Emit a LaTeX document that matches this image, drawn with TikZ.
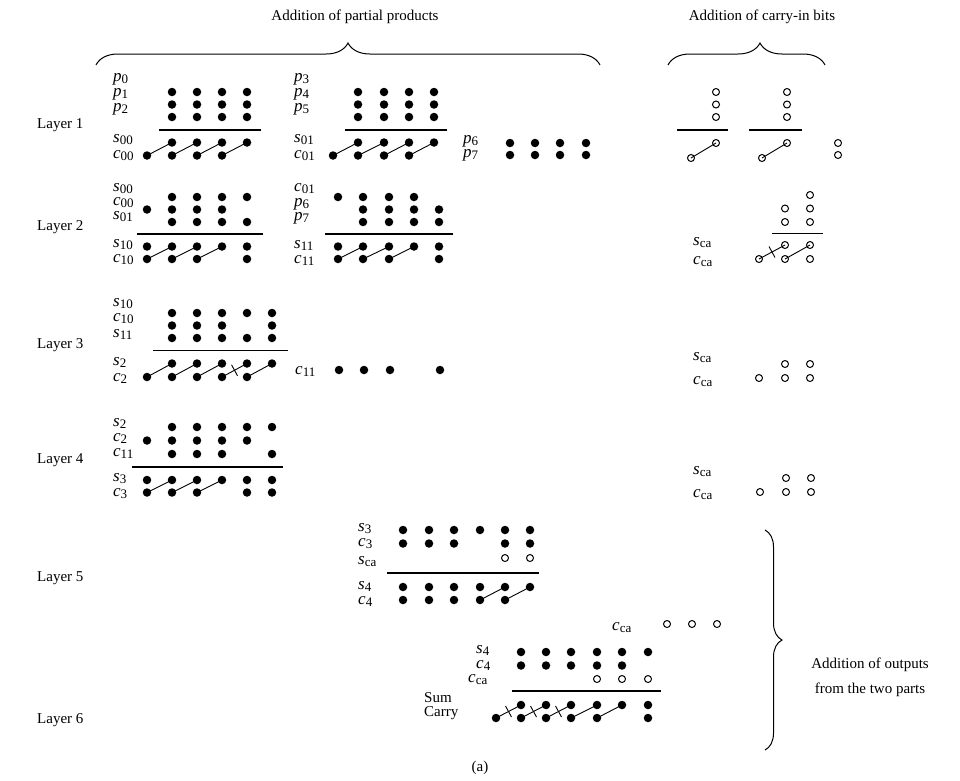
\documentclass[tikz,border=0pt]{standalone}
\usepackage{fontspec}
\setmainfont{Liberation Serif}
\usetikzlibrary{decorations.pathreplacing,calc}
\tikzset{
 fdot/.style={circle,fill=black,inner sep=0pt,minimum size=8.5pt},
 odot/.style={circle,draw=black,line width=1pt,inner sep=0pt,minimum size=7pt},
 conn/.style={line width=0.9pt},
 sepline/.style={line width=1.1pt},
 lbl/.style={anchor=west,inner sep=0pt,font=\fontsize{15}{18}\selectfont},
 ttl/.style={inner sep=0pt,font=\fontsize{15}{18}\selectfont},
}
\newcommand\lv[2]{{\fontsize{17}{17}\selectfont\textit{#1}}\raisebox{-2pt}{\fontsize{13}{13}\selectfont #2}}
\newcommand\Fd[3]{\foreach \xx in {#3}{\node[fdot] (#1\xx) at (\xx,#2) {};}}
\newcommand\Od[3]{\foreach \xx in {#3}{\node[odot] (#1\xx) at (\xx,#2) {};}}
\newcommand\Cn[2]{\draw[conn] (#1.center) -- (#2.center);}
\newcommand\Xn[2]{\draw[conn] (#1.center) -- (#2.center) coordinate[midway] (xm);
  \draw[conn] ($(xm)+(-3,-5.5)$) -- ($(xm)+(3,5.5)$);}
\newcommand\Sep[4]{\coordinate (#1L) at (#2,#4); \coordinate (#1R) at (#3,#4); \draw[sepline] (#1L) -- (#1R);}
\begin{document}
\begin{tikzpicture}[x=1pt,y=-1pt]
\useasboundingbox (0,0) rectangle (960,780);
% titles and braces
\node[ttl] (t1) at (355,17) {Addition of partial products};
\node[ttl] (t2) at (762,17) {Addition of carry-in bits};
\coordinate (b1a) at (96,65); \coordinate (b1b) at (600,65);
\draw[decorate,line width=1pt,decoration={brace,amplitude=22pt}] (b1a) -- (b1b);
\coordinate (b2a) at (668,65); \coordinate (b2b) at (825,65);
\draw[decorate,line width=1pt,decoration={brace,amplitude=22pt,aspect=0.586}] (b2a) -- (b2b);
\coordinate (b3a) at (765,530); \coordinate (b3b) at (765,750);
\draw[decorate,line width=1pt,decoration={brace,amplitude=17pt}] (b3a) -- (b3b);
\node[ttl,align=center,font=\fontsize{15}{25}\selectfont] (t3) at (870,677) {Addition of outputs\\from the two parts};
\node[ttl] (cap) at (480,768) {(a)};
% layer labels
\node[lbl] (y1) at (37,125) {Layer 1};
\node[lbl] (y2) at (37,227) {Layer 2};
\node[lbl] (y3) at (37,345) {Layer 3};
\node[lbl] (y4) at (37,460) {Layer 4};
\node[lbl] (y5) at (37,578) {Layer 5};
\node[lbl] (y6) at (37,720) {Layer 6};
% ---------- Layer 1 ----------
\node[lbl] (lA1) at (113,79) {\lv{p}{0}};
\node[lbl] (lA2) at (113,94) {\lv{p}{1}};
\node[lbl] (lA3) at (113,109) {\lv{p}{2}};
\node[lbl] (lA4) at (113,140) {\lv{s}{00}};
\node[lbl] (lA5) at (113,156) {\lv{c}{00}};
\Fd{Aa}{92}{172,197,222,247}
\Fd{Ab}{104.5}{172,197,222,247}
\Fd{Ac}{117}{172,197,222,247}
\Sep{Al}{159}{261}{130}
\Fd{As}{142.5}{172,197,222,247}
\Fd{Ak}{155.5}{147,172,197,222}
\Cn{Ak147}{As172}\Cn{Ak172}{As197}\Cn{Ak197}{As222}\Cn{Ak222}{As247}
\node[lbl] (lB1) at (294,79) {\lv{p}{3}};
\node[lbl] (lB2) at (294,94) {\lv{p}{4}};
\node[lbl] (lB3) at (294,109) {\lv{p}{5}};
\node[lbl] (lB4) at (294,140) {\lv{s}{01}};
\node[lbl] (lB5) at (294,156) {\lv{c}{01}};
\Fd{Ba}{92}{358,384,409,434}
\Fd{Bb}{104.5}{358,384,409,434}
\Fd{Bc}{117}{358,384,409,434}
\Sep{Bl}{345}{447}{130}
\Fd{Bs}{142.5}{358,384,409,434}
\Fd{Bk}{155.5}{333,358,384,409}
\Cn{Bk333}{Bs358}\Cn{Bk358}{Bs384}\Cn{Bk384}{Bs409}\Cn{Bk409}{Bs434}
\node[lbl] (lC1) at (463,141) {\lv{p}{6}};
\node[lbl] (lC2) at (463,155) {\lv{p}{7}};
\Fd{Ca}{143}{510,535,560,586}
\Fd{Cb}{155}{510,535,560,586}
\Od{Da}{92}{716,787}
\Od{Db}{104.5}{716,787}
\Od{Dc}{117}{716,787}
\Sep{Dl}{677}{728}{130}
\Sep{El}{749}{802}{130}
\Od{Ds}{143}{716,787,838}
\Od{Dk}{158}{691,762}
\Od{Dz}{155}{838}
\Cn{Dk691}{Ds716}\Cn{Dk762}{Ds787}
% ---------- Layer 2 ----------
\node[lbl] (lF1) at (113,189) {\lv{s}{00}};
\node[lbl] (lF2) at (113,203) {\lv{c}{00}};
\node[lbl] (lF3) at (113,217) {\lv{s}{01}};
\node[lbl] (lF4) at (113,245) {\lv{s}{10}};
\node[lbl] (lF5) at (113,260) {\lv{c}{10}};
\Fd{Fa}{197}{172,197,222,247}
\Fd{Fb}{209.5}{147,172,197,222}
\Fd{Fc}{222}{172,197,222,247}
\Sep{Fl}{137}{263}{234}
\Fd{Fs}{246.5}{147,172,197,222,247}
\Fd{Fk}{259}{147,172,197,247}
\Cn{Fk147}{Fs172}\Cn{Fk172}{Fs197}\Cn{Fk197}{Fs222}
\node[lbl] (lG1) at (294,189) {\lv{c}{01}};
\node[lbl] (lG2) at (294,204) {\lv{p}{6}};
\node[lbl] (lG3) at (294,218) {\lv{p}{7}};
\node[lbl] (lG4) at (294,245) {\lv{s}{11}};
\node[lbl] (lG5) at (294,260) {\lv{c}{11}};
\Fd{Ga}{197}{338,363,389,414}
\Fd{Gb}{209.5}{363,389,414,439}
\Fd{Gc}{222}{363,389,414,439}
\Sep{Gl}{325}{453}{234}
\Fd{Gs}{246.5}{338,363,389,414,439}
\Fd{Gk}{259}{338,363,389,439}
\Cn{Gk338}{Gs363}\Cn{Gk363}{Gs389}\Cn{Gk389}{Gs414}
\node[lbl] (lH1) at (693,243) {\lv{s}{ca}};
\node[lbl] (lH2) at (693,262) {\lv{c}{ca}};
\Od{Ha}{195}{810}
\Od{Hb}{208.5}{785,810}
\Od{Hc}{222}{785,810}
\Sep{Hl}{772}{823}{233.5}
\Od{Hs}{245}{785,810}
\Od{Hk}{259}{759,785,810}
\Xn{Hk759}{Hs785}\Cn{Hk785}{Hs810}
% ---------- Layer 3 ----------
\node[lbl] (lI1) at (113,304) {\lv{s}{10}};
\node[lbl] (lI2) at (113,319) {\lv{c}{10}};
\node[lbl] (lI3) at (113,334) {\lv{s}{11}};
\node[lbl] (lI4) at (113,362) {\lv{s}{2}};
\node[lbl] (lI5) at (113,378) {\lv{c}{2}};
\Fd{Ia}{313}{172,197,222,247,272}
\Fd{Ib}{325.5}{172,197,222,272}
\Fd{Ic}{338}{172,197,222,247,272}
\Sep{Il}{153}{288}{350.5}
\Fd{Is}{363.5}{172,197,222,247,272}
\Fd{Ik}{377}{147,172,197,222,247}
\Cn{Ik147}{Is172}\Cn{Ik172}{Is197}\Cn{Ik197}{Is222}\Xn{Ik222}{Is247}\Cn{Ik247}{Is272}
\node[lbl] (lJ1) at (295,371) {\lv{c}{11}};
\Fd{Ja}{370}{339,364,390,440}
\node[lbl] (lK1) at (693,358) {\lv{s}{ca}};
\node[lbl] (lK2) at (693,382) {\lv{c}{ca}};
\Od{Ks}{364}{785,810}
\Od{Kk}{378}{759,785,810}
% ---------- Layer 4 ----------
\node[lbl] (lL1) at (113,423) {\lv{s}{2}};
\node[lbl] (lL2) at (113,438) {\lv{c}{2}};
\node[lbl] (lL3) at (113,453) {\lv{c}{11}};
\node[lbl] (lL4) at (113,479) {\lv{s}{3}};
\node[lbl] (lL5) at (113,494) {\lv{c}{3}};
\Fd{La}{427}{172,197,222,247,272}
\Fd{Lb}{440.5}{147,172,197,222,247}
\Fd{Lc}{454}{172,197,222,272}
\Sep{Ll}{132}{283}{467}
\Fd{Ls}{480}{147,172,197,222,247,272}
\Fd{Lk}{492.5}{147,172,197,247,272}
\Cn{Lk147}{Ls172}\Cn{Lk172}{Ls197}\Cn{Lk197}{Ls222}
\node[lbl] (lM1) at (693,472) {\lv{s}{ca}};
\node[lbl] (lM2) at (693,495) {\lv{c}{ca}};
\Od{Ms}{478}{786,811}
\Od{Mk}{492}{760,786,811}
% ---------- Layer 5 ----------
\node[lbl] (lN1) at (358,529) {\lv{s}{3}};
\node[lbl] (lN2) at (358,544) {\lv{c}{3}};
\node[lbl] (lN3) at (358,562) {\lv{s}{ca}};
\node[lbl] (lN4) at (358,586) {\lv{s}{4}};
\node[lbl] (lN5) at (358,601) {\lv{c}{4}};
\Fd{Na}{530}{403,429,454,480,505,530}
\Fd{Nb}{543.5}{403,429,454,505,530}
\Od{Nc}{558}{505,530}
\Sep{Nl}{387}{539}{573}
\Fd{Ns}{587}{403,429,454,480,505,530}
\Fd{Nk}{600}{403,429,454,480,505}
\Cn{Nk480}{Ns505}\Cn{Nk505}{Ns530}
\node[lbl] (lO1) at (612,628) {\lv{c}{ca}};
\Od{Oa}{624}{667,692,717}
% ---------- Layer 6 ----------
\node[lbl] (lP1) at (476,650) {\lv{s}{4}};
\node[lbl] (lP2) at (476,665) {\lv{c}{4}};
\node[lbl] (lP3) at (468,680) {\lv{c}{ca}};
\node[lbl] (lP4) at (424,698) {Sum};
\node[lbl] (lP5) at (424,713) {Carry};
\Fd{Pa}{652}{521,546,571,597,622,648}
\Fd{Pb}{665.5}{521,546,571,597,622}
\Od{Pc}{679}{597,622,648}
\Sep{Pl}{512}{661}{691}
\Fd{Ps}{705}{521,546,571,597,622,648}
\Fd{Pk}{718}{496,521,546,571,597,648}
\Xn{Pk496}{Ps521}\Xn{Pk521}{Ps546}\Xn{Pk546}{Ps571}\Cn{Pk571}{Ps597}\Cn{Pk597}{Ps622}
\end{tikzpicture}
\end{document}
